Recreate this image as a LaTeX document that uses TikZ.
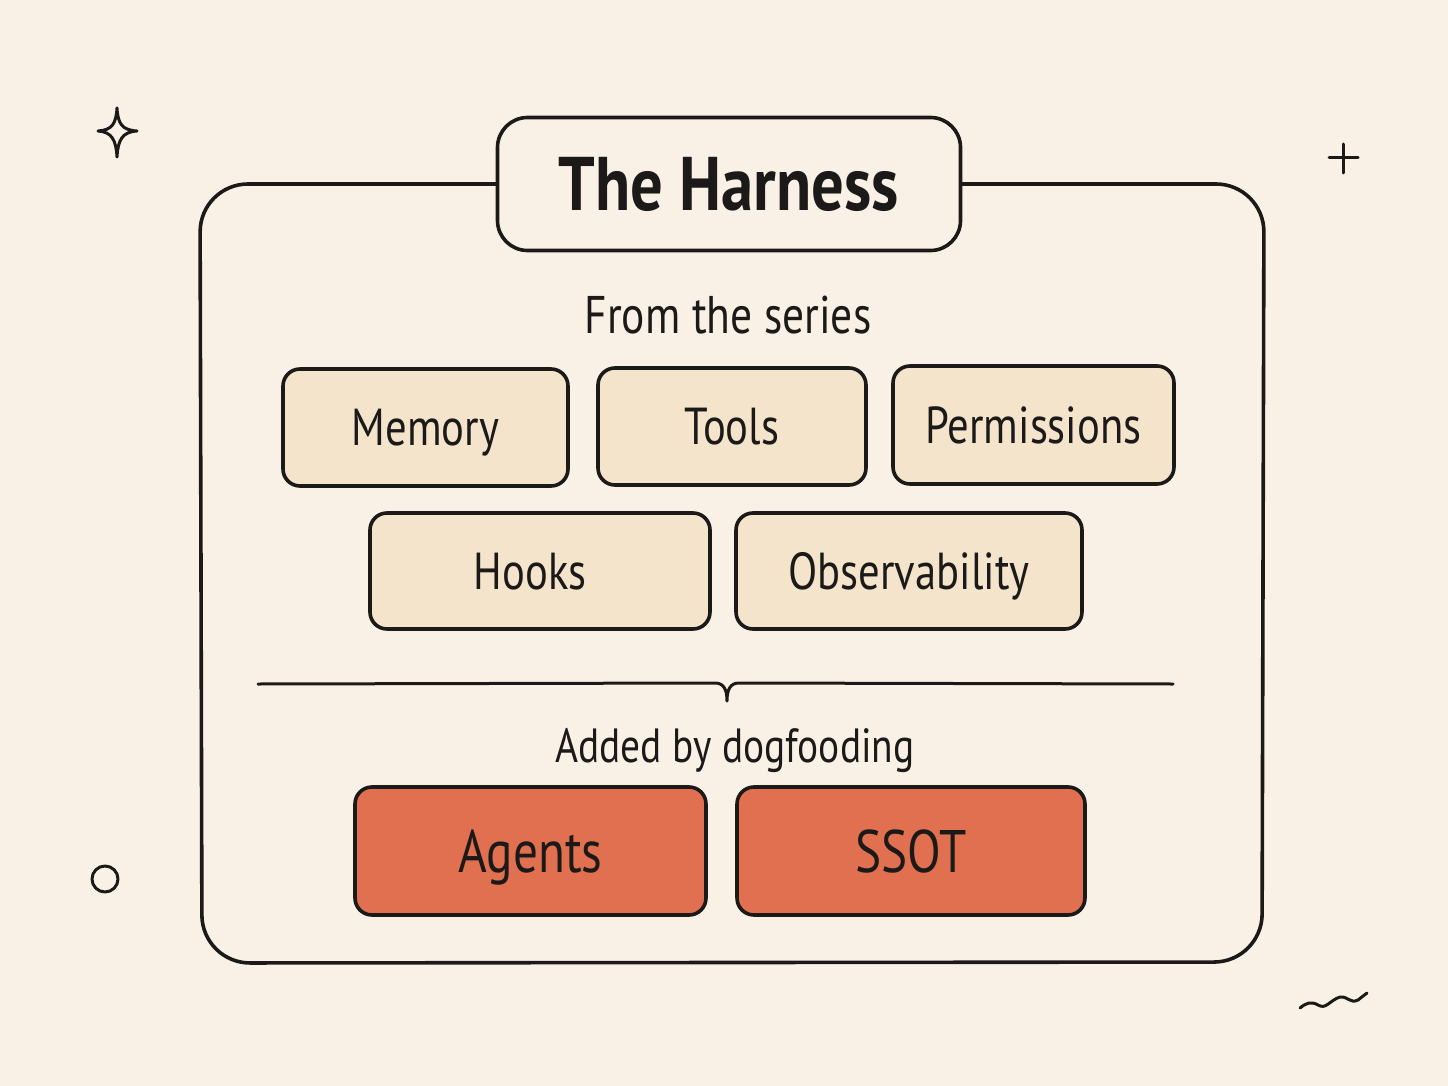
\documentclass[tikz,border=0pt]{standalone}
\usepackage{fontspec}
\setmainfont[FakeStretch=0.82]{PT Sans}
\newfontfamily\titlefont[FakeStretch=0.85]{PT Sans Bold}
\definecolor{bgc}{HTML}{FAF1E6}
\definecolor{ink}{HTML}{1C1A18}
\definecolor{tan}{HTML}{F3E4CB}
\definecolor{rust}{HTML}{E0704F}
\tikzset{
  inkline/.style={draw=ink, line width=3.6pt, line cap=round, line join=round},
  chip/.style={inkline, fill=tan, rounded corners=17pt, inner sep=0pt,
     font=\fontsize{52}{54}\selectfont, text=ink, text height=36pt, text depth=0pt},
  hot/.style={chip, fill=rust, font=\fontsize{60}{62}\selectfont, text height=42pt},
  heading/.style={text=ink, inner sep=0pt, text height=36pt, text depth=0pt},
}
\begin{document}
\begin{tikzpicture}[x=1pt,y=-1pt]
\fill[bgc] (0,0) rectangle (1448,1086);
\useasboundingbox (0,0) rectangle (1448,1086);
% outer frame
\draw[inkline, rounded corners=48pt] (200,184) -- (1264,184) -- (1262,962) -- (202,963) -- cycle;
% title box
\node[inkline, fill=bgc, rounded corners=30pt, minimum width=463pt, minimum height=133pt,
      font=\titlefont\fontsize{76}{80}\selectfont, text=ink, text height=53pt, text depth=0pt, inner sep=0pt]
      (title) at (729,184) {The Harness};
% headings
\node[heading, font=\fontsize{53}{55}\selectfont] (from) at (728,315) {From the series};
% row 1
\node[chip, minimum width=285pt, minimum height=117pt] (memory) at (425.5,427.5) {Memory};
\node[chip, minimum width=268pt, minimum height=117pt] (tools) at (732,426.5) {Tools};
\node[chip, minimum width=281pt, minimum height=118pt] (perm) at (1033.5,425) {Permissions};
% row 2
\node[chip, minimum width=340pt, minimum height=116pt] (hooks) at (540,571) {\hspace*{-20pt}Hooks};
\node[chip, minimum width=346pt, minimum height=116pt] (obs) at (909,571) {Observability};
% divider
\coordinate (dl) at (258,684);
\coordinate (dr) at (1173,684);
\coordinate (notch) at (727,701);
\draw[inkline, line width=3pt] (dl) -- (715,683) .. controls (724,683) and (727,690) .. (notch)
   .. controls (727,690) and (730,683) .. (739,683) -- (dr);
\node[heading, font=\fontsize{48}{50}\selectfont] (added) at (735,744) {Added by dogfooding};
% orange boxes
\node[hot, minimum width=351pt, minimum height=128pt] (agents) at (530.5,851) {Agents};
\node[hot, minimum width=348pt, minimum height=128pt] (ssot) at (911,851) {SSOT};
% decorations
\coordinate (st) at (117,108);
\coordinate (sr) at (137,131);
\coordinate (sb) at (117,157);
\coordinate (sl) at (98,131);
\draw[inkline, line width=3pt] (st) .. controls (118,124) and (122,130) .. (sr)
  .. controls (122,132) and (118,140) .. (sb)
  .. controls (116,140) and (112,132) .. (sl)
  .. controls (112,130) and (116,124) .. (st) -- cycle;
\draw[inkline, line width=3pt] (1343,144) -- (1343,173) (1329,158) -- (1358,158);
\draw[inkline, line width=3pt] (105,879) circle (13pt);
\draw[inkline, line width=3pt] (1300,1008) .. controls (1306,1003) and (1311,1001) .. (1318,1005)
  .. controls (1326,1010) and (1330,1000) .. (1340,997)
  .. controls (1348,996) and (1350,1004) .. (1358,1000) -- (1367,993);
\end{tikzpicture}
\end{document}
